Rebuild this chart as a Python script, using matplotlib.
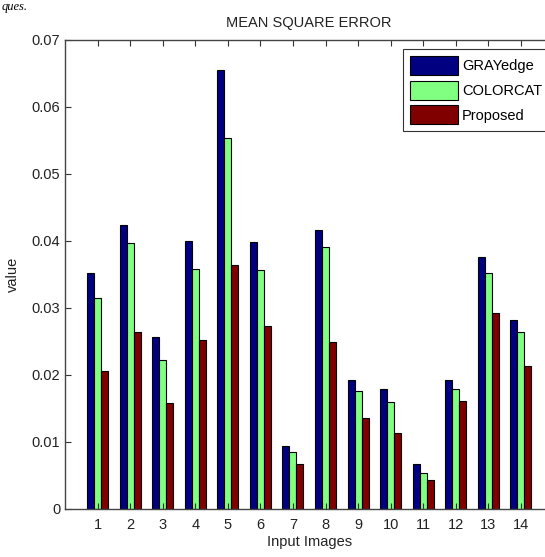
import matplotlib
matplotlib.use("Agg")
import matplotlib.pyplot as plt
import numpy as np

categories = [str(i) for i in range(1, 15)]
grayedge = [0.0352, 0.0423, 0.0256, 0.0400, 0.0655, 0.0398, 0.0093, 0.0416,
            0.0192, 0.0179, 0.0066, 0.0192, 0.0375, 0.0281]
colorcat = [0.0314, 0.0396, 0.0221, 0.0358, 0.0553, 0.0356, 0.0084, 0.0391,
            0.0175, 0.0159, 0.0053, 0.0179, 0.0352, 0.0263]
proposed = [0.0205, 0.0264, 0.0158, 0.0252, 0.0364, 0.0272, 0.0067, 0.0248,
            0.0135, 0.0112, 0.0043, 0.0161, 0.0292, 0.0212]
series_names = ["GRAYedge", "COLORCAT", "Proposed"]
yticks = [0, 0.01, 0.02, 0.03, 0.04, 0.05, 0.06, 0.07]
ytick_labels = ["0", "0.01", "0.02", "0.03", "0.04", "0.05", "0.06", "0.07"]

plt.rcParams['font.family'] = ['Liberation Sans', 'DejaVu Sans']

W, H = 545, 557
fig = plt.figure(figsize=(W / 100, H / 100), dpi=100)
fig.patch.set_facecolor("white")
ax = fig.add_axes([65 / W, 1 - 508.5 / H, (553.5 - 65) / W, (508.5 - 39.5) / H])

x = np.arange(1, len(categories) + 1)
bw = 0.215
colors = ["#000080", "#80FF80", "#800000"]
for i, (vals, name, c) in enumerate(zip([grayedge, colorcat, proposed], series_names, colors)):
    ax.bar(x + (i - 1) * bw, vals, width=bw, color=c, edgecolor="black",
           linewidth=0.8, label=name)

ax.set_xlim(0, 15)
ax.set_ylim(0, 0.07)
ax.set_xticks(x)
ax.set_xticklabels(categories, fontsize=10.5)
ax.set_yticks(yticks)
ax.set_yticklabels(ytick_labels, fontsize=10.5)
ax.tick_params(direction="in", length=4, width=0.8, top=True, right=True,
               colors="#333333", labelcolor="#222222")
ax.tick_params(axis="x", pad=7)
for s in ax.spines.values():
    s.set_color("#444444")
    s.set_linewidth(1.0)

ax.set_title("MEAN SQUARE ERROR", fontsize=10.5, color="#222222", pad=9)
ax.set_xlabel("Input Images", fontsize=10.5, color="#222222", labelpad=2)
ax.set_ylabel("value", fontsize=10.5, color="#222222", labelpad=8)

leg = ax.legend(loc="upper left", bbox_to_anchor=(403 / W, 1 - 49 / H),
                bbox_transform=fig.transFigure, borderaxespad=0,
                fontsize=10.5, frameon=True, fancybox=False,
                handlelength=3.3, handleheight=1.6, handletextpad=0.25,
                labelspacing=0.4, borderpad=0.5)
leg.get_frame().set_edgecolor("black")
leg.get_frame().set_linewidth(0.8)

fig.text(0.002, 0.999, "ques.", fontsize=9, family="Liberation Serif",
         style="italic", va="top", ha="left")

fig.savefig("out.png", dpi=100, facecolor="white")
